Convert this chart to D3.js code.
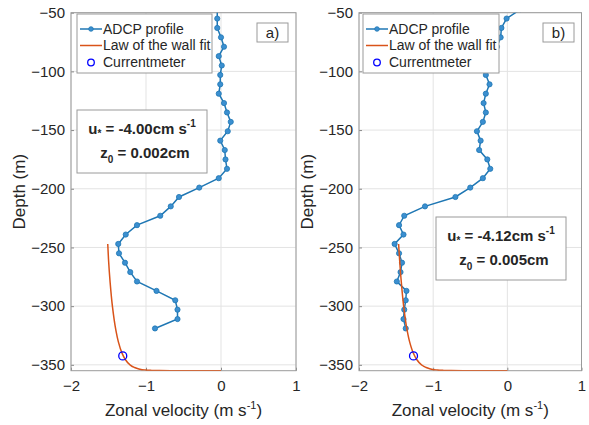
<!DOCTYPE html>
<html>
<head>
<meta charset="utf-8">
<script src="https://cdn.jsdelivr.net/npm/d3@7"></script>
<style>
  body { margin: 0; background: #fff; }
  text { font-family: "Liberation Sans", Arial, sans-serif; fill: #262626; }
</style>
</head>
<body>
<svg id="viz-svg" width="589" height="425"></svg>
<script>
// ADCP bin depths (m), shared by both panels
var depth = [-47, -55, -63, -71, -79, -87, -95, -103, -111, -119, -127, -135, -143, -151, -159, -167, -175,
             -183, -191, -199, -207, -215, -223, -231, -239, -247, -255, -263, -271, -279, -287, -295, -303, -311, -319];
// zonal velocity (m/s), panel a
var uA = [-0.05, -0.05, -0.05, 0.00, 0.04, -0.03, 0.01, -0.01, -0.01, -0.03, 0.04, 0.08, 0.13, 0.09, -0.01, 0.05, 0.06,
          0.08, -0.03, -0.29, -0.56, -0.67, -0.81, -1.12, -1.27, -1.37, -1.36, -1.28, -1.21, -1.12, -0.86, -0.61, -0.58, -0.58, -0.88];
// panel b
var uB = [0.18, -0.01, -0.08, -0.09, -0.14, -0.20, -0.26, -0.29, -0.24, -0.29, -0.32, -0.29, -0.33, -0.41, -0.36, -0.38, -0.27,
          -0.23, -0.33, -0.50, -0.70, -1.11, -1.39, -1.46, -1.40, -1.52, -1.46, -1.42, -1.44, -1.49, -1.36, -1.37, -1.39, -1.40, -1.37];

// law of the wall fit curves
var fitDepth = [-247, -260, -280, -300, -320, -330, -340, -345, -350, -352, -353.5, -354.3, -354.7, -354.9, -354.98, -354.998, -355];
var fitA = [-1.51, -1.50, -1.478, -1.448, -1.403, -1.370, -1.320, -1.28, -1.213, -1.163, -1.095, -1.02, -0.94, -0.83, -0.67, -0.45, 0];
var fitB = [-1.466, -1.453, -1.429, -1.398, -1.353, -1.319, -1.267, -1.226, -1.157, -1.105, -1.036, -0.96, -0.874, -0.764, -0.60, -0.37, 0];

// currentmeter points
var cmDepth = -342.4;
var cmA = -1.31, cmB = -1.265;

var xTicks = [-2, -1, 0, 1];
var yTicks = [-350, -300, -250, -200, -150, -100, -50];

var panels = [
  {left: 71, right: 296, u: uA, fit: fitA, cm: cmA, tag: "a)",
   tagBox: [257, 23, 31, 19], legend: [77, 14, 135, 59],
   box: [77, 110, 130, 63], ustar: "-4.00", z0: "0.002"},
  {left: 359, right: 581.5, u: uB, fit: fitB, cm: cmB, tag: "b)",
   tagBox: [543, 23, 31, 19], legend: [363, 14, 136, 59],
   box: [436, 217, 130, 63], ustar: "-4.12", z0: "0.005"}
];

var svg = d3.select("svg");
var yTop = 12.7, yBottom = 370.7;

panels.forEach(function(p, i) {
  var x = d3.scaleLinear().domain([-2, 1]).range([p.left, p.right]);
  var y = d3.scaleLinear().domain([-355, -50]).range([yBottom, yTop]);
  var g = svg.append("g");

  // grid
  g.selectAll(".gx").data(xTicks).enter().append("line")
    .attr("x1", d => x(d)).attr("x2", d => x(d)).attr("y1", yTop).attr("y2", yBottom)
    .attr("stroke", "#e3e3e3").attr("stroke-width", 1);
  g.selectAll(".gy").data(yTicks).enter().append("line")
    .attr("y1", d => y(d)).attr("y2", d => y(d)).attr("x1", p.left).attr("x2", p.right)
    .attr("stroke", "#e3e3e3").attr("stroke-width", 1);

  // axes with inward ticks
  g.append("g").attr("transform", "translate(0," + yBottom + ")")
    .call(d3.axisBottom(x).tickValues(xTicks).tickSize(-3).tickPadding(10).tickFormat(d3.format("d")))
    .call(a => a.select(".domain").remove())
    .call(a => a.selectAll("line").attr("stroke", "#8a8a8a"))
    .call(a => a.selectAll("text").attr("font-size", 15).attr("font-family", null).attr("fill", "#262626"));
  g.append("g").attr("transform", "translate(" + p.left + ",0)")
    .call(d3.axisLeft(y).tickValues(yTicks).tickSize(-3).tickPadding(6).tickFormat(d3.format("d")))
    .call(a => a.select(".domain").remove())
    .call(a => a.selectAll("line").attr("stroke", "#8a8a8a"))
    .call(a => a.selectAll("text").attr("font-size", 15).attr("font-family", null).attr("fill", "#262626"));

  g.append("rect").attr("x", p.left).attr("y", yTop)
    .attr("width", p.right - p.left).attr("height", yBottom - yTop)
    .attr("fill", "none").attr("stroke", "#9a9a9a").attr("stroke-width", 1);

  var clipId = "clip" + i;
  svg.append("clipPath").attr("id", clipId).append("rect")
    .attr("x", p.left).attr("y", yTop).attr("width", p.right - p.left).attr("height", yBottom - yTop);
  var plot = g.append("g").attr("clip-path", "url(#" + clipId + ")");

  // ADCP profile
  var pts = depth.map((d, k) => [p.u[k], d]);
  plot.append("path").datum(pts)
    .attr("d", d3.line().x(d => x(d[0])).y(d => y(d[1])))
    .attr("fill", "none").attr("stroke", "#1f77b4").attr("stroke-width", 1.5);
  plot.selectAll(".m").data(pts).enter().append("circle")
    .attr("cx", d => x(d[0])).attr("cy", d => y(d[1])).attr("r", 2.6)
    .attr("fill", "#3b8fd0").attr("stroke", "#1f77b4").attr("stroke-width", 0.8);

  // law of the wall fit
  var fpts = fitDepth.map((d, k) => [p.fit[k], d]);
  plot.append("path").datum(fpts)
    .attr("d", d3.line().curve(d3.curveMonotoneY).x(d => x(d[0])).y(d => y(d[1])))
    .attr("fill", "none").attr("stroke", "#D95319").attr("stroke-width", 1.5);

  // currentmeter
  plot.append("circle").attr("cx", x(p.cm)).attr("cy", y(cmDepth)).attr("r", 4)
    .attr("fill", "none").attr("stroke", "#0000FF").attr("stroke-width", 1.3);

  // legend
  var L = p.legend;
  var lg = g.append("g");
  lg.append("rect").attr("x", L[0]).attr("y", L[1]).attr("width", L[2]).attr("height", L[3])
    .attr("fill", "#fff").attr("stroke", "#9a9a9a").attr("stroke-width", 1);
  var rows = [L[1] + 15, L[1] + 31.5, L[1] + 48.5];
  lg.append("line").attr("x1", L[0] + 3).attr("x2", L[0] + 25).attr("y1", rows[0]).attr("y2", rows[0])
    .attr("stroke", "#1f77b4").attr("stroke-width", 1.5);
  lg.append("circle").attr("cx", L[0] + 14).attr("cy", rows[0]).attr("r", 2.3)
    .attr("fill", "#3b8fd0").attr("stroke", "#1f77b4").attr("stroke-width", 0.8);
  lg.append("line").attr("x1", L[0] + 3).attr("x2", L[0] + 25).attr("y1", rows[1]).attr("y2", rows[1])
    .attr("stroke", "#D95319").attr("stroke-width", 1.5);
  lg.append("circle").attr("cx", L[0] + 14).attr("cy", rows[2]).attr("r", 3.3)
    .attr("fill", "none").attr("stroke", "#0000FF").attr("stroke-width", 1.3);
  ["ADCP profile", "Law of the wall fit", "Currentmeter"].forEach(function(t, k) {
    lg.append("text").attr("x", L[0] + 26).attr("y", rows[k]).attr("dy", "0.35em")
      .attr("font-size", 14).text(t);
  });

  // panel tag
  var T = p.tagBox;
  g.append("rect").attr("x", T[0]).attr("y", T[1]).attr("width", T[2]).attr("height", T[3])
    .attr("fill", "#fff").attr("stroke", "#9a9a9a");
  g.append("text").attr("x", T[0] + T[2] / 2).attr("y", T[1] + T[3] / 2).attr("dy", "0.35em")
    .attr("text-anchor", "middle").attr("font-size", 15).text(p.tag);

  // fit parameter box
  var B = p.box;
  g.append("rect").attr("x", B[0]).attr("y", B[1]).attr("width", B[2]).attr("height", B[3])
    .attr("fill", "#fff").attr("stroke", "#9a9a9a");
  var t1 = g.append("text").attr("x", B[0] + B[2] / 2).attr("y", B[1] + 24)
    .attr("text-anchor", "middle").attr("font-size", 15).attr("font-weight", "bold");
  t1.append("tspan").text("u");
  t1.append("tspan").attr("font-size", 10).attr("dy", 3).text("*");
  t1.append("tspan").attr("dy", -3).text(" = " + p.ustar + "cm s");
  t1.append("tspan").attr("font-size", 10).attr("dy", -7).text("-1");
  var t2 = g.append("text").attr("x", B[0] + B[2] / 2 + 3).attr("y", B[1] + 48)
    .attr("text-anchor", "middle").attr("font-size", 15).attr("font-weight", "bold");
  t2.append("tspan").text("z");
  t2.append("tspan").attr("font-size", 10).attr("dy", 5).text("0");
  t2.append("tspan").attr("dy", -5).text(" = " + p.z0 + "cm");

  // axis labels
  var xl = g.append("text").attr("x", (p.left + p.right) / 2).attr("y", 416)
    .attr("text-anchor", "middle").attr("font-size", 17);
  xl.append("tspan").text("Zonal velocity (m s");
  xl.append("tspan").attr("font-size", 11).attr("dy", -7).text("-1");
  xl.append("tspan").attr("dy", 7).text(")");

  g.append("text")
    .attr("transform", "translate(" + (p.left - 46) + "," + ((yTop + yBottom) / 2) + ") rotate(-90)")
    .attr("text-anchor", "middle").attr("font-size", 17).text("Depth (m)");
});
</script>
</body>
</html>
